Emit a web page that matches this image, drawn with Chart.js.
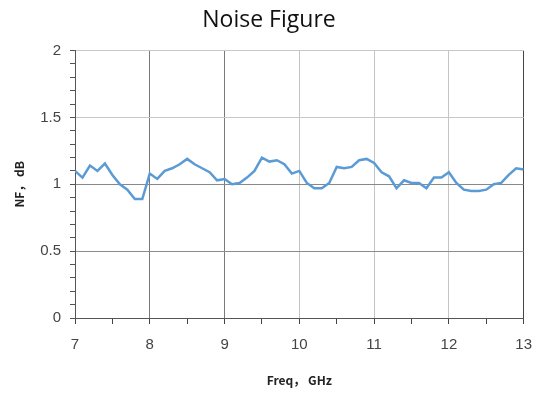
<!DOCTYPE html>
<html>
<head>
<meta charset="utf-8">
<script src="https://cdn.jsdelivr.net/npm/chart.js@4/dist/chart.umd.min.js"></script>
<style>
  html, body { margin: 0; padding: 0; background: #fff; }
</style>
</head>
<body>
<canvas id="nf" width="544" height="394"></canvas>
<script>
// 측정 데이터 (reference 그림에서 읽은 값)
const freqGHz = [
  7.0, 7.1, 7.2, 7.3, 7.4, 7.5, 7.6, 7.7, 7.8, 7.9,
  8.0, 8.1, 8.2, 8.3, 8.4, 8.5, 8.6, 8.7, 8.8, 8.9,
  9.0, 9.1, 9.2, 9.3, 9.4, 9.5, 9.6, 9.7, 9.8, 9.9,
  10.0, 10.1, 10.2, 10.3, 10.4, 10.5, 10.6, 10.7, 10.8, 10.9,
  11.0, 11.1, 11.2, 11.3, 11.4, 11.5, 11.6, 11.7, 11.8, 11.9,
  12.0, 12.1, 12.2, 12.3, 12.4, 12.5, 12.6, 12.7, 12.8, 12.9,
  13.0
];
const nfDb = [
  1.10, 1.05, 1.14, 1.10, 1.155, 1.07, 1.00, 0.96, 0.89, 0.89,
  1.08, 1.04, 1.10, 1.12, 1.15, 1.19, 1.15, 1.12, 1.09, 1.03,
  1.04, 1.00, 1.01, 1.05, 1.10, 1.20, 1.17, 1.18, 1.15, 1.08,
  1.10, 1.01, 0.97, 0.97, 1.01, 1.13, 1.12, 1.13, 1.18, 1.19,
  1.16, 1.09, 1.06, 0.97, 1.03, 1.01, 1.01, 0.97, 1.05, 1.05,
  1.09, 1.01, 0.96, 0.95, 0.95, 0.96, 1.00, 1.01, 1.07, 1.12,
  1.11
];
const xRange = [7, 13];
const yRange = [0, 2];

const isMult = (v, step) => Math.abs(v / step - Math.round(v / step)) < 1e-6;

// x 축 격자선 색 (원본 이미지의 농담 차이)
const xGridColor = (v) => {
  if (!isMult(v, 1)) return 'rgba(0,0,0,0)';
  if (v === 7) return '#555';
  if (v === 13) return '#444';
  if (v === 8 || v === 9) return '#7a7a7a';
  return '#c4c4c4';
};
const yGridColor = (v) => {
  if (!isMult(v, 0.5)) return 'rgba(0,0,0,0)';
  if (v < 1e-6) return '#555';
  if (isMult(v, 1) && v < 1.5) return '#888';
  if (Math.abs(v - 0.5) < 1e-6) return '#8c8c8c';
  return '#c8c8c8';
};

const ctx = document.getElementById('nf').getContext('2d');
new Chart(ctx, {
  type: 'line',
  data: {
    datasets: [{
      label: 'NF',
      data: freqGHz.map((f, i) => ({ x: f, y: nfDb[i] })),
      borderColor: '#5b9bd5',
      borderWidth: 2.5,
      pointRadius: 0,
      tension: 0,
      fill: false,
    }]
  },
  options: {
    responsive: false,
    animation: false,
    layout: { padding: { left: 11, right: 17, top: 0, bottom: 0 } },
    plugins: {
      legend: { display: false },
      tooltip: { enabled: false },
      title: {
        display: true,
        text: 'Noise Figure',
        color: '#111',
        font: { family: 'Open Sans', size: 23, weight: 'normal', lineHeight: 1.2 },
        padding: { top: 7, bottom: 16 },
      },
    },
    scales: {
      x: {
        type: 'linear',
        min: xRange[0],
        max: xRange[1],
        afterFit: (scale) => { scale.height = 76; },
        ticks: {
          stepSize: 0.5,
          autoSkip: false,
          maxRotation: 0,
          padding: 12,
          color: '#444',
          font: { family: 'Liberation Sans', size: 15 },
          callback: (v) => isMult(v, 1) ? String(v) : '',
        },
        grid: {
          color: (c) => xGridColor(c.tick.value),
          tickColor: '#444',
          tickLength: 6,
          lineWidth: 1,
        },
        border: { color: '#555', width: 1 },
        title: {
          display: true,
          text: 'Freq， GHz',
          color: '#222',
          font: { family: 'Noto Sans CJK SC', size: 12, weight: 'bold', lineHeight: 1.2 },
          padding: { top: 0, bottom: 6 },
        },
      },
      y: {
        min: yRange[0],
        max: yRange[1],
        afterFit: (scale) => { scale.width = 64; },
        ticks: {
          stepSize: 0.1,
          autoSkip: false,
          padding: 9,
          color: '#444',
          font: { family: 'Liberation Sans', size: 15 },
          callback: (v) => isMult(v, 0.5) ? String(Number(v.toFixed(1))) : '',
        },
        grid: {
          color: (c) => yGridColor(c.tick.value),
          tickColor: '#555',
          tickLength: 5,
          lineWidth: 1,
        },
        border: { color: '#555', width: 1 },
        title: {
          display: true,
          text: 'NF， dB',
          color: '#222',
          font: { family: 'Noto Sans CJK SC', size: 12, weight: 'bold', lineHeight: 1.2 },
          padding: { top: 1, bottom: 0 },
        },
      },
    },
  },
});
</script>
</body>
</html>
